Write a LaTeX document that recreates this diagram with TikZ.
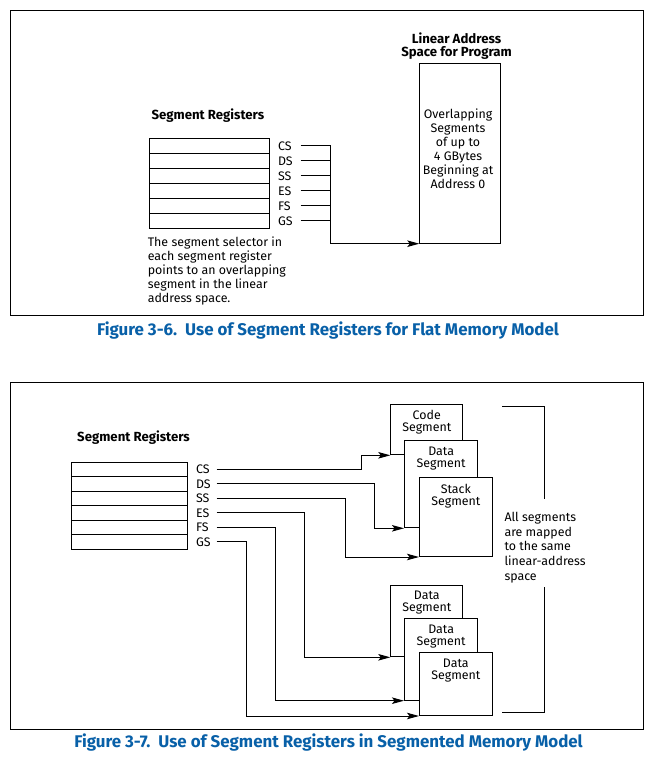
\documentclass[tikz,border=0pt]{standalone}
\usepackage{fontspec}
\setmainfont{Fira Sans}
\usetikzlibrary{arrows.meta,calc}
\definecolor{capblue}{RGB}{8,96,168}
\begin{document}
\begin{tikzpicture}[x=1pt,y=-1pt,line width=1pt,
  lbl/.style={font=\fontsize{12.4}{14}\selectfont,inner sep=0pt},
  blbl/.style={font=\fontsize{13.2}{13}\selectfont\bfseries,inner sep=0pt},
  boxtxt/.style={font=\fontsize{12.4}{12.3}\selectfont,inner sep=0pt,align=center},
  figcap/.style={font=\fontsize{16.9}{18}\selectfont\bfseries,text=capblue,inner sep=0pt},
  outerframe/.style={draw,line width=1pt},
  regrow/.style={draw,minimum width=120pt,minimum height=15pt,inner sep=0pt},
  regrowb/.style={draw,minimum width=116pt,minimum height=14.45pt,inner sep=0pt},
  segbox/.style={draw,fill=white,anchor=north west,inner sep=0pt},
  arr/.style={-{Stealth[length=12pt,width=6.5pt,inset=2.5pt]}},
]
\useasboundingbox (0,0) rectangle (671,763);
\fill[white] (0,0) rectangle (671,763);

% ---------------- Figure 3-6 ----------------
\draw[outerframe] (10.7,10) rectangle (643.3,315);
\node[blbl,anchor=west] (sr1) at (151,115.5) {Segment Registers};
\foreach \i/\n in {1/CS,2/DS,3/SS,4/ES,5/FS,6/GS}{
  \node[regrow] (a\i) at (209.3,{138.3+7.5+15*(\i-1)}) {};
  \node[lbl,anchor=west] (al\i) at (277.5,{138.3+7.5+15*(\i-1)}) {\n};
}
\node[draw,anchor=north west,minimum width=81pt,minimum height=179.4pt,inner sep=0pt] (lin) at (419.3,63.3) {};
\node[blbl,align=center] (lintitle) at (456.5,46) {Linear Address\\Space for Program};
\node[lbl,align=center] (lintxt) at (458,148.5) {Overlapping\\Segments\\of up to\\4 GBytes\\Beginning at\\Address 0};
\coordinate (jn) at (330.7,0);
\foreach \i in {1,...,5}{
  \draw ($(a\i.east)+(30.7,0)$) -- (a\i.east -| jn);
}
\draw[arr] ($(a6.east)+(30.7,0)$) -- (a6.east -| jn) -- (a1.east -| jn) (a6.east -| jn) |- (lin.south west);
\node[lbl,align=left,anchor=west] (note) at (147.3,270.6) {The segment selector in\\each segment register\\points to an overlapping\\segment in the linear\\address space.};
\node[figcap] (cap1) at (328,330.5) {Figure 3-6.\ \ Use of Segment Registers for Flat Memory Model};

% ---------------- Figure 3-7 ----------------
\draw[outerframe] (10.7,382.7) rectangle (643.3,729.3);
\node[blbl,anchor=west] (sr2) at (76.7,437.7) {Segment Registers};
\foreach \i/\n in {1/CS,2/DS,3/SS,4/ES,5/FS,6/GS}{
  \node[regrowb] (b\i) at (129.3,{462.3+7.225+14.45*(\i-1)}) {};
  \node[lbl,anchor=west] (bl\i) at (195.5,{462.3+7.225+14.45*(\i-1)}) {\n};
}
% segment boxes (upper group)
\node[segbox,minimum width=72pt,minimum height=50pt] (code) at (390.3,404.3) {};
\node[segbox,minimum width=73.3pt,minimum height=87pt] (data) at (404,440.3) {};
\node[segbox,minimum width=72.7pt,minimum height=79pt] (stack) at (419,477) {};
% lower group
\node[segbox,minimum width=72pt,minimum height=71.3pt] (d1) at (390.3,585) {};
\node[segbox,minimum width=73.3pt,minimum height=81.4pt] (d2) at (404,618.3) {};
\node[segbox,minimum width=72.7pt,minimum height=62.7pt] (d3) at (419,652.3) {};
% box texts
\node[boxtxt] (codet) at ($(code.north)+(0,17.8)$) {Code\\Segment};
\node[boxtxt] (datat) at ($(data.north)+(0,18.3)$) {Data\\Segment};
\node[boxtxt] (stackt) at ($(stack.north)+(0,19)$) {Stack\\Segment};
\node[boxtxt] (d1t) at ($(d1.north)+(0,17.3)$) {Data\\Segment};
\node[boxtxt] (d2t) at ($(d2.north)+(0,18)$) {Data\\Segment};
\node[boxtxt] (d3t) at ($(d3.north)+(0,18)$) {Data\\Segment};
% connectors
\coordinate (xcs) at (361.7,0);
\coordinate (xds) at (374.3,0);
\coordinate (xss) at (345,0);
\coordinate (xes) at (304.3,0);
\coordinate (xfs) at (275,0);
\coordinate (xgs) at (246,0);
\draw[arr] ($(b1.east)+(28.7,0)$) -- (b1.east -| xcs) |- (code.south west);
\draw[arr] ($(b2.east)+(28.7,0)$) -- (b2.east -| xds) |- (data.south west);
\draw[arr] ($(b3.east)+(28.7,0)$) -- (b3.east -| xss) |- (stack.south west);
\draw[arr] ($(b4.east)+(28.7,0)$) -- (b4.east -| xes) |- (d1.south west);
\draw[arr] ($(b5.east)+(28.7,0)$) -- (b5.east -| xfs) |- (d2.south west);
\draw[arr] ($(b6.east)+(28.7,0)$) -- (b6.east -| xgs) |- (d3.south west);
% bracket and its text
\node[lbl,align=left,anchor=west,font=\fontsize{12.4}{14.6}\selectfont] (allseg) at (504,547.5) {All segments\\are mapped\\to the same\\linear-address\\space};
\draw (502.3,406) -- (544,406) -- (544,499.3);
\draw (544,587.3) -- (544,712.7) -- (502.3,712.7);
\node[figcap] (cap2) at (328.5,743) {Figure 3-7.\ \ Use of Segment Registers in Segmented Memory Model};
\end{tikzpicture}
\end{document}
